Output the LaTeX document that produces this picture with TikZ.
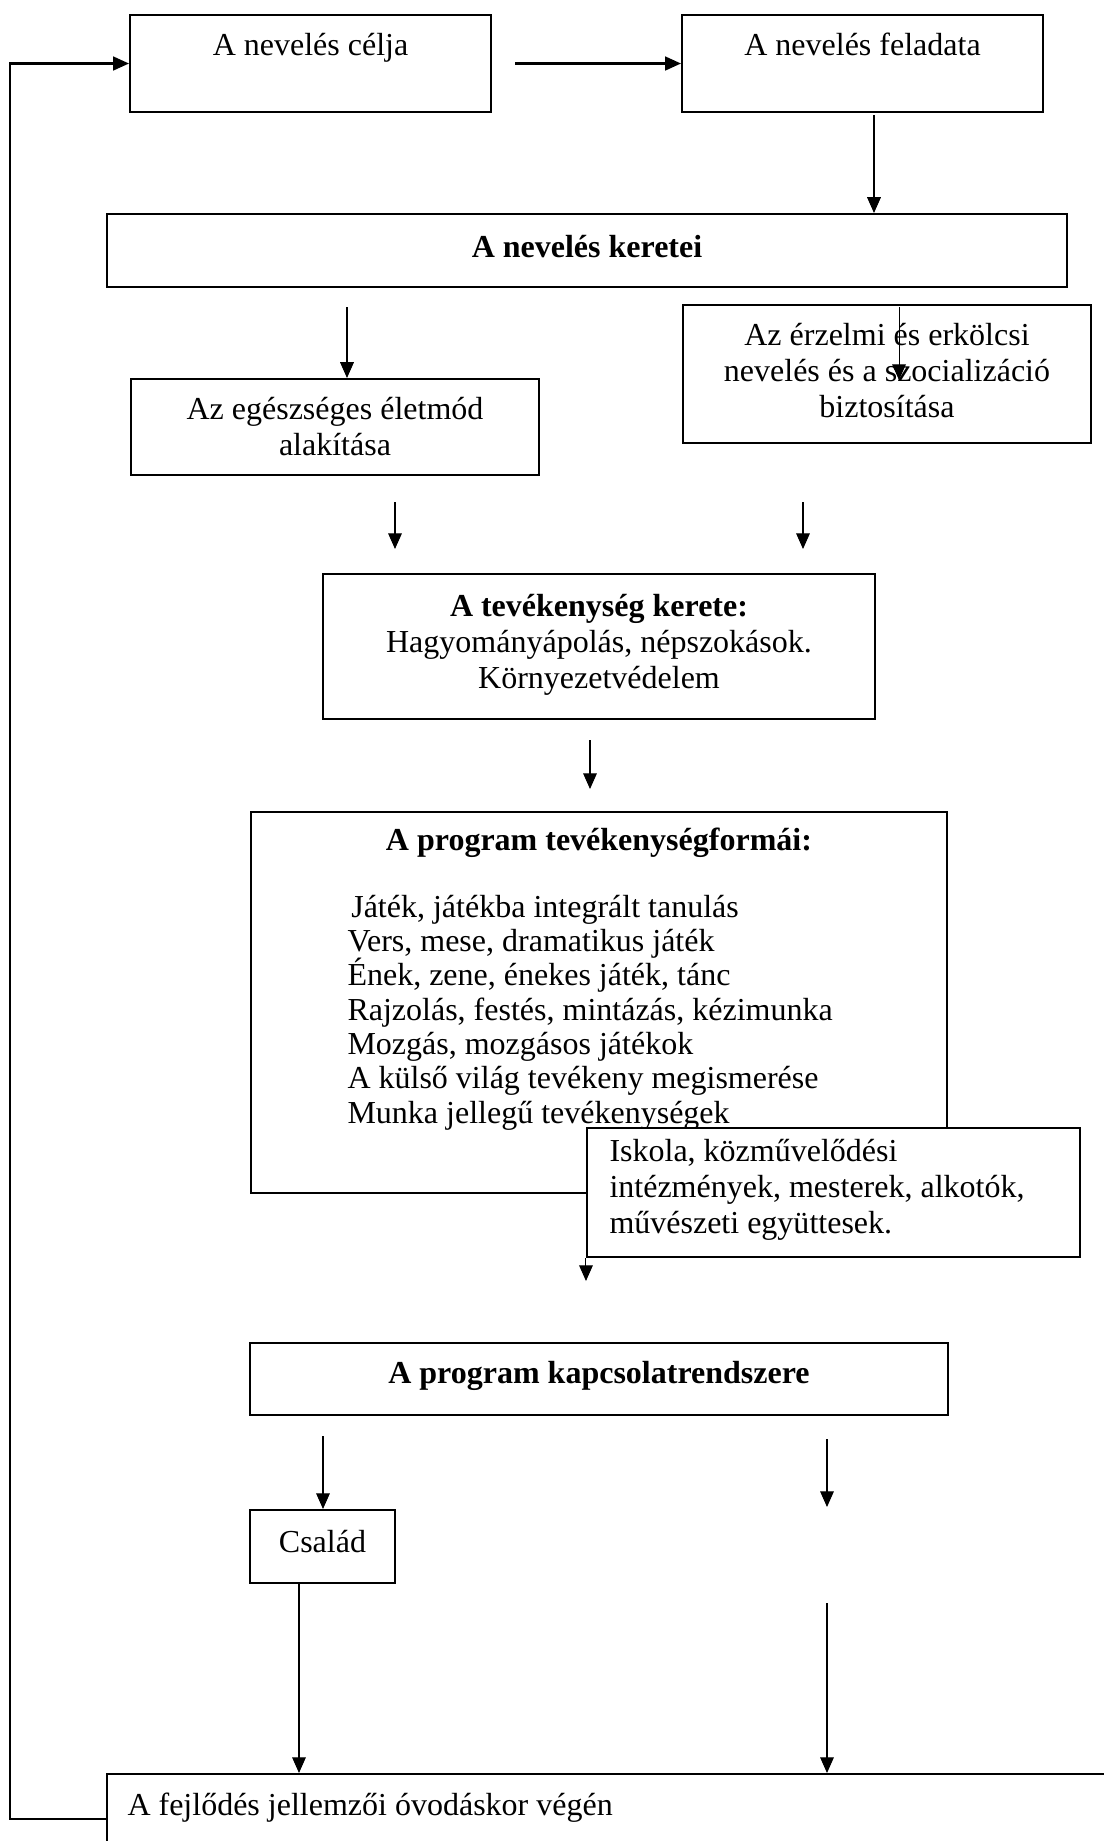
\documentclass[tikz,border=0pt]{standalone}
\usepackage{fontspec}
\setmainfont{Liberation Serif}
\usetikzlibrary{arrows.meta,positioning,calc}
\newcommand{\pxl}{0.3937pt}

\begin{document}
\begin{tikzpicture}[x=0.3937pt,y=0.3937pt,yscale=-1,xscale=1,
	box/.style={draw, line width=0.8pt, fill=white, inner sep=0pt},
	txt/.style={inner sep=0pt, font=\fontsize{12.6}{14}\selectfont},
	arr/.style={-{Triangle[length=6.2pt,width=5.4pt]}, line width=0.4pt},
	harr/.style={-{Triangle[length=6.2pt,width=5.4pt]}, line width=0.8pt}]
	\useasboundingbox (0,0) rectangle (1103,1841);
	
	%Shape: Rectangle [celja]
	\node[box, minimum width=361*\pxl, minimum height=97*\pxl] (celja) at (310.5,63.5) {};
	%Shape: Rectangle [feladat]
	\node[box, minimum width=361*\pxl, minimum height=97*\pxl] (feladat) at (862.5,63.5) {};
	%Shape: Rectangle [keretei]
	\node[box, minimum width=960*\pxl, minimum height=73*\pxl] (keretei) at (587,250.5) {};
	%Shape: Rectangle [eletmod]
	\node[box, minimum width=408*\pxl, minimum height=96*\pxl] (eletmod) at (335,427) {};
	%Shape: Rectangle [erzelmi]
	\node[box, minimum width=408*\pxl, minimum height=138*\pxl] (erzelmi) at (887,374) {};
	%Shape: Rectangle [kerete]
	\node[box, minimum width=552*\pxl, minimum height=145*\pxl] (kerete) at (599,646.5) {};
	%Shape: Rectangle [formai]
	\node[box, minimum width=696*\pxl, minimum height=381*\pxl] (formai) at (599,1002.5) {};
	%Shape: Rectangle [kapcsolat]
	\node[box, minimum width=698*\pxl, minimum height=72*\pxl] (kapcsolat) at (599,1379) {};
	%Shape: Rectangle [csalad]
	\node[box, minimum width=145*\pxl, minimum height=73*\pxl] (csalad) at (322.5,1546.5) {};
	%Shape: Rectangle [fejlodes]
	\node[box, minimum width=1013*\pxl, minimum height=90*\pxl] (fejlodes) at (613.5,1819) {};
	
	% Text Node
	\node[txt, anchor=base] (celjaT) at (310.5,55) {A nevelés célja};
	% Text Node
	\node[txt, anchor=base] (feladatT) at (862.5,55) {A nevelés feladata};
	% Text Node
	\node[txt, anchor=base] (kereteiT) at (587,257) {\bfseries A nevelés keretei};
	% Text Node
	\node[txt, anchor=base, align=center] (eletmodT) at (335,455) {Az egészséges életmód\\alakítása};
	% Text Node
	\node[txt, anchor=base, align=center] (erzelmiT) at (887,417) {Az érzelmi és erkölcsi\\nevelés és a szocializáció\\biztosítása};
	% Text Node
	\node[txt, anchor=base, align=center] (kereteT) at (599,688) {\bfseries A tevékenység kerete:\\Hagyományápolás, népszokások.\\Környezetvédelem};
	% Text Node
	\node[txt, anchor=base] (formaiT) at (599,850) {\bfseries A program tevékenységformái:};
	% Text Node
	\node[txt, anchor=base west, align=left, font=\fontsize{12.6}{13.5}\selectfont] (formaiL) at (347,1123) {\hspace{1.5pt}Játék, játékba integrált tanulás\\Vers, mese, dramatikus játék\\Ének, zene, énekes játék, tánc\\Rajzolás, festés, mintázás, kézimunka\\Mozgás, mozgásos játékok\\A külső világ tevékeny megismerése\\Munka jellegű tevékenységek};
	
	%Shape: Rectangle [iskola]
	\node[box, minimum width=493*\pxl, minimum height=129*\pxl] (iskola) at (833.5,1192.5) {};
	% Text Node
	\node[txt, anchor=base west, align=left] (iskolaT) at (609,1233) {Iskola, közművelődési\\intézmények, mesterek, alkotók,\\művészeti együttesek.};
	% Text Node
	\node[txt, anchor=base] (kapcsolatT) at (599,1383) {\bfseries A program kapcsolatrendszere};
	% Text Node
	\node[txt, anchor=base] (csaladT) at (322.5,1552) {Család};
	% Text Node
	\node[txt, anchor=base west] (fejlodesT) at (127,1815) {A fejlődés jellemzői óvodáskor végén};
	
	%Straight Lines [feedback]
	\draw[harr] (fejlodes.west) -- ++(-96,0) |- (celja.west);
	%Straight Lines
	\coordinate (c1) at (515,63.5);
	\draw[harr] (c1) -- (feladat.west);
	%Straight Lines
	\coordinate (k1) at (874,115);
	\draw[arr] (k1) -- (k1 |- keretei.north);
	%Straight Lines
	\coordinate (e1) at (347,307);
	\draw[arr] (e1) -- (e1 |- eletmod.north);
	\coordinate (e2) at (899,307);
	\coordinate (e2e) at (899,380);
	\draw[arr] (e2) -- (e2e);
	%Straight Lines
	\coordinate (t1) at (395,502);
	\coordinate (t1e) at (395,549);
	\draw[arr] (t1) -- (t1e);
	\coordinate (t2) at (803,502);
	\coordinate (t2e) at (803,549);
	\draw[arr] (t2) -- (t2e);
	%Straight Lines
	\coordinate (p1) at (590,740);
	\coordinate (p1e) at (590,789);
	\draw[arr] (p1) -- (p1e);
	%Straight Lines
	\draw[arr] (iskola.south west) -- ++(0,23);
	%Straight Lines
	\coordinate (s1) at (323,1436);
	\draw[arr] (s1) -- (s1 |- csalad.north);
	\coordinate (s2) at (827,1439);
	\coordinate (s2e) at (827,1507);
	\draw[arr] (s2) -- (s2e);
	\coordinate (s3) at (299,0);
	\draw[arr] (csalad.south -| s3) -- (fejlodes.north -| s3);
	\coordinate (s4) at (827,1603);
	\draw[arr] (s4) -- (s4 |- fejlodes.north);
	
\end{tikzpicture}
\end{document}
